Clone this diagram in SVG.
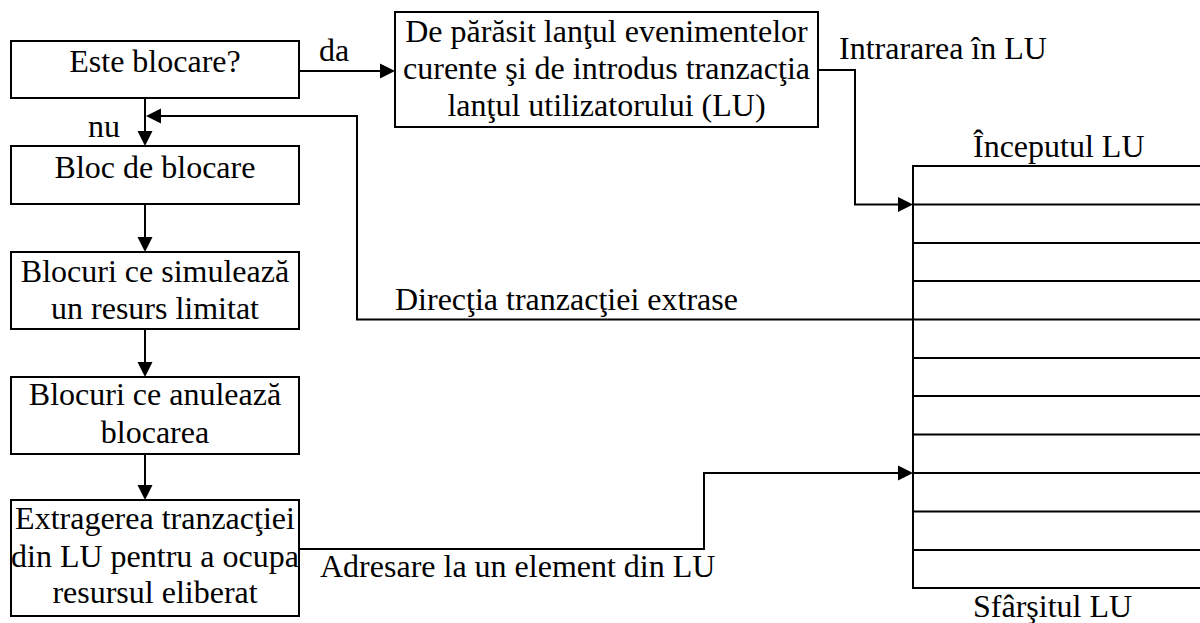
<svg xmlns="http://www.w3.org/2000/svg" width="1200" height="623" viewBox="0 0 1200 623">
  <style>
    .box { fill: #ffffff; stroke: #000000; stroke-width: 2; }
    .mid { text-anchor: middle; }
    .wire { fill: none; stroke: #000000; stroke-width: 2; }
    .head { fill: #000000; stroke: none; }
    .row { stroke: #000000; stroke-width: 2; }
  </style>

  <rect width="1200" height="623" fill="#ffffff"/>

  <!-- Connectors -->
  <g id="connectors">
    <!-- da -->
    <line class="wire" x1="299" y1="71" x2="382" y2="71"/>
    <polygon class="head" points="380,63.5 395,71 380,78.5"/>
    <!-- nu -->
    <line class="wire" x1="145" y1="98" x2="145" y2="133"/>
    <polygon class="head" points="137.5,131 145,146 152.5,131"/>
    <!-- return of extracted transaction -->
    <polyline class="wire" points="913,319.5 357,319.5 357,116 159,116"/>
    <polygon class="head" points="161,108.5 146,116 161,123.5"/>
    <!-- flow down the left column -->
    <line class="wire" x1="145" y1="204" x2="145" y2="239"/>
    <polygon class="head" points="137.5,237 145,252 152.5,237"/>
    <line class="wire" x1="145" y1="329" x2="145" y2="364"/>
    <polygon class="head" points="137.5,362 145,377 152.5,362"/>
    <line class="wire" x1="145" y1="454" x2="145" y2="487"/>
    <polygon class="head" points="137.5,485 145,500 152.5,485"/>
    <!-- entry into LU -->
    <polyline class="wire" points="818,70 855,70 855,204.5 900,204.5"/>
    <polygon class="head" points="898,197 913,204.5 898,212"/>
    <!-- addressing an element of LU -->
    <polyline class="wire" points="299,549 704,549 704,473 900,473"/>
    <polygon class="head" points="898,465.5 913,473 898,480.5"/>
    <text font-family="Liberation Serif" font-size="32" x="319" y="61">da</text>
    <text font-family="Liberation Serif" font-size="32" x="88" y="137">nu</text>
    <text font-family="Liberation Serif" font-size="32" x="839" y="59">Intrararea în LU</text>
    <text font-family="Liberation Serif" font-size="32" x="395" y="310">Direcţia tranzacţiei extrase</text>
    <text font-family="Liberation Serif" font-size="32" x="320" y="577">Adresare la un element din LU</text>
  </g>

  <g id="este-blocare">
    <rect class="box" x="11" y="41" width="288" height="57"/>
    <text font-family="Liberation Serif" font-size="32" class="mid" x="155" y="72">Este blocare?</text>
  </g>

  <g id="parasit-lant">
    <rect class="box" x="395" y="12" width="423" height="115"/>
    <text font-family="Liberation Serif" font-size="32" class="mid" x="606.5" y="42">De părăsit lanţul evenimentelor</text>
    <text font-family="Liberation Serif" font-size="32" class="mid" x="606.5" y="79">curente şi de introdus tranzacţia</text>
    <text font-family="Liberation Serif" font-size="32" class="mid" x="606.5" y="116">lanţul utilizatorului (LU)</text>
  </g>

  <g id="bloc-blocare">
    <rect class="box" x="11" y="146" width="288" height="58"/>
    <text font-family="Liberation Serif" font-size="32" class="mid" x="155" y="178">Bloc de blocare</text>
  </g>

  <g id="resurs-limitat">
    <rect class="box" x="11" y="252" width="288" height="77"/>
    <text font-family="Liberation Serif" font-size="32" class="mid" x="155" y="282">Blocuri ce simulează</text>
    <text font-family="Liberation Serif" font-size="32" class="mid" x="155" y="319">un resurs limitat</text>
  </g>

  <g id="anuleaza-blocarea">
    <rect class="box" x="11" y="377" width="288" height="77"/>
    <text font-family="Liberation Serif" font-size="32" class="mid" x="155" y="405">Blocuri ce anulează</text>
    <text font-family="Liberation Serif" font-size="32" class="mid" x="155" y="443">blocarea</text>
  </g>

  <g id="extragerea">
    <rect class="box" x="11" y="500" width="288" height="116"/>
    <text font-family="Liberation Serif" font-size="32" class="mid" x="155" y="529">Extragerea tranzacţiei</text>
    <text font-family="Liberation Serif" font-size="32" class="mid" x="155" y="567">din LU pentru a ocupa</text>
    <text font-family="Liberation Serif" font-size="32" class="mid" x="155" y="603">resursul eliberat</text>
  </g>

  <!-- user chain: stack of slots -->
  <g id="lant-utilizator">
    <rect class="box" x="913" y="166" width="300" height="422" fill="none"/>
    <line class="row" x1="913" y1="204.5" x2="1202" y2="204.5"/>
    <line class="row" x1="913" y1="243" x2="1202" y2="243"/>
    <line class="row" x1="913" y1="281" x2="1202" y2="281"/>
    <line class="row" x1="913" y1="319.5" x2="1202" y2="319.5"/>
    <line class="row" x1="913" y1="358" x2="1202" y2="358"/>
    <line class="row" x1="913" y1="396" x2="1202" y2="396"/>
    <line class="row" x1="913" y1="434.5" x2="1202" y2="434.5"/>
    <line class="row" x1="913" y1="473" x2="1202" y2="473"/>
    <line class="row" x1="913" y1="511.5" x2="1202" y2="511.5"/>
    <line class="row" x1="913" y1="550" x2="1202" y2="550"/>
    <text font-family="Liberation Serif" font-size="32" x="973" y="157">Începutul LU</text>
    <text font-family="Liberation Serif" font-size="32" x="973" y="617">Sfârşitul LU</text>
  </g>
</svg>
